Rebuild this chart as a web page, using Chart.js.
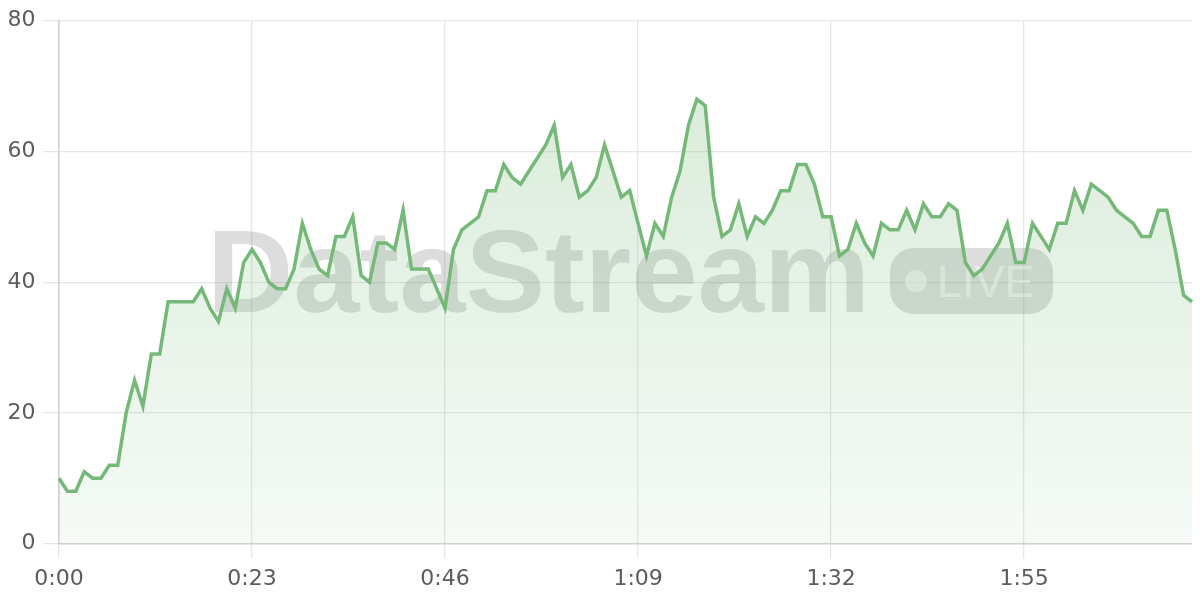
<!DOCTYPE html>
<html lang="en">

<head>
    <meta charset="UTF-8">
    <title>DataStream Live</title>
    <script src="https://cdn.jsdelivr.net/npm/chart.js"></script>
    <style>
        html, body {
            margin: 0;
            padding: 0;
            background: #ffffff;
        }
        #wrap {
            width: 1200px;
            height: 600px;
        }
    </style>
</head>

<body>
    <div id="wrap">
        <canvas id="liveChart"></canvas>
    </div>

    <script>
        // values per second, 0:00 .. 2:15
        const values = [
            10, 8, 8, 11, 10, 10, 12, 12, 20, 25,
            21, 29, 29, 37, 37, 37, 37, 39, 36, 34,
            39, 36, 43, 45, 43, 40, 39, 39, 42, 49,
            45, 42, 41, 47, 47, 50, 41, 40, 46, 46,
            45, 51, 42, 42, 42, 39, 36, 45, 48, 49,
            50, 54, 54, 58, 56, 55, 57, 59, 61, 64,
            56, 58, 53, 54, 56, 61, 57, 53, 54, 49,
            44, 49, 47, 53, 57, 64, 68, 67, 53, 47,
            48, 52, 47, 50, 49, 51, 54, 54, 58, 58,
            55, 50, 50, 44, 45, 49, 46, 44, 49, 48,
            48, 51, 48, 52, 50, 50, 52, 51, 43, 41,
            42, 44, 46, 49, 43, 43, 49, 47, 45, 49,
            49, 54, 51, 55, 54, 53, 51, 50, 49, 47,
            47, 51, 51, 45, 38, 37
        ];

        // one label per second
        const times = values.map((v, i) => Math.floor(i / 60) + ':' + String(i % 60).padStart(2, '0'));

        // labels shown on the x axis
        const tickLabels = ['0:00', '0:23', '0:46', '1:09', '1:32', '1:55'];

        const yTicks = [0, 20, 40, 60, 80];

        const lineColor = '#74b977';
        const tickFont = { family: "'DejaVu Sans', sans-serif", size: 22 };

        // faint "DataStream LIVE" mark behind the line
        const watermark = {
            id: 'watermark',
            beforeDatasetsDraw(chart) {
                const ctx = chart.ctx;
                ctx.save();
                ctx.fillStyle = 'rgba(120, 120, 120, 0.25)';
                ctx.font = "bold 117px 'Liberation Sans', Arial, sans-serif";
                ctx.textBaseline = 'alphabetic';
                const w = ctx.measureText('DataStream').width;
                ctx.translate(207, 312);
                ctx.scale(663 / w, 1);
                ctx.fillText('DataStream', 0, 0);
                ctx.restore();

                ctx.save();
                ctx.fillStyle = 'rgba(120, 120, 120, 0.25)';
                ctx.beginPath();
                ctx.roundRect(890, 248, 163, 66, 24);
                ctx.fill();
                ctx.fillStyle = 'rgba(255, 255, 255, 0.55)';
                ctx.beginPath();
                ctx.arc(916, 281, 11, 0, Math.PI * 2);
                ctx.fill();
                ctx.font = "45px 'Liberation Sans', Arial, sans-serif";
                ctx.textBaseline = 'alphabetic';
                ctx.fillText('LIVE', 937, 297);
                ctx.restore();
            }
        };

        const ctx = document.getElementById('liveChart').getContext('2d');
        const chart = new Chart(ctx, {
            type: 'line',
            data: {
                labels: times,
                datasets: [{
                    data: values,
                    borderColor: lineColor,
                    borderWidth: 3.5,
                    pointRadius: 0,
                    tension: 0,
                    fill: 'origin',
                    backgroundColor: function (context) {
                        const area = context.chart.chartArea;
                        if (!area) return 'rgba(118, 185, 121, 0.15)';
                        const g = context.chart.ctx.createLinearGradient(0, area.top, 0, area.bottom);
                        g.addColorStop(0, 'rgba(118, 185, 121, 0.30)');
                        g.addColorStop(1, 'rgba(118, 185, 121, 0.07)');
                        return g;
                    }
                }]
            },
            options: {
                responsive: true,
                maintainAspectRatio: false,
                animation: false,
                layout: {
                    padding: { left: 0, right: 8, top: 17, bottom: 0 }
                },
                plugins: {
                    legend: { display: false },
                    tooltip: { enabled: false }
                },
                scales: {
                    x: {
                        grid: { color: '#e6e6e6', lineWidth: 1.3, tickLength: 15 },
                        border: { color: '#cfcfcf', width: 1.5 },
                        ticks: {
                            autoSkip: false,
                            maxRotation: 0,
                            padding: 7.5,
                            color: '#5c5c5c',
                            font: tickFont,
                            callback: function (value, index) {
                                const label = this.getLabelForValue(value);
                                return tickLabels.includes(label) ? label : null;
                            }
                        }
                    },
                    y: {
                        min: yTicks[0],
                        max: yTicks[yTicks.length - 1],
                        grid: { color: '#e6e6e6', lineWidth: 1.3, tickLength: 16 },
                        border: { color: '#cfcfcf', width: 1.5 },
                        ticks: {
                            stepSize: 20,
                            padding: 7.5,
                            color: '#5c5c5c',
                            font: tickFont
                        }
                    }
                }
            },
            plugins: [watermark]
        });
    </script>
</body>

</html>
